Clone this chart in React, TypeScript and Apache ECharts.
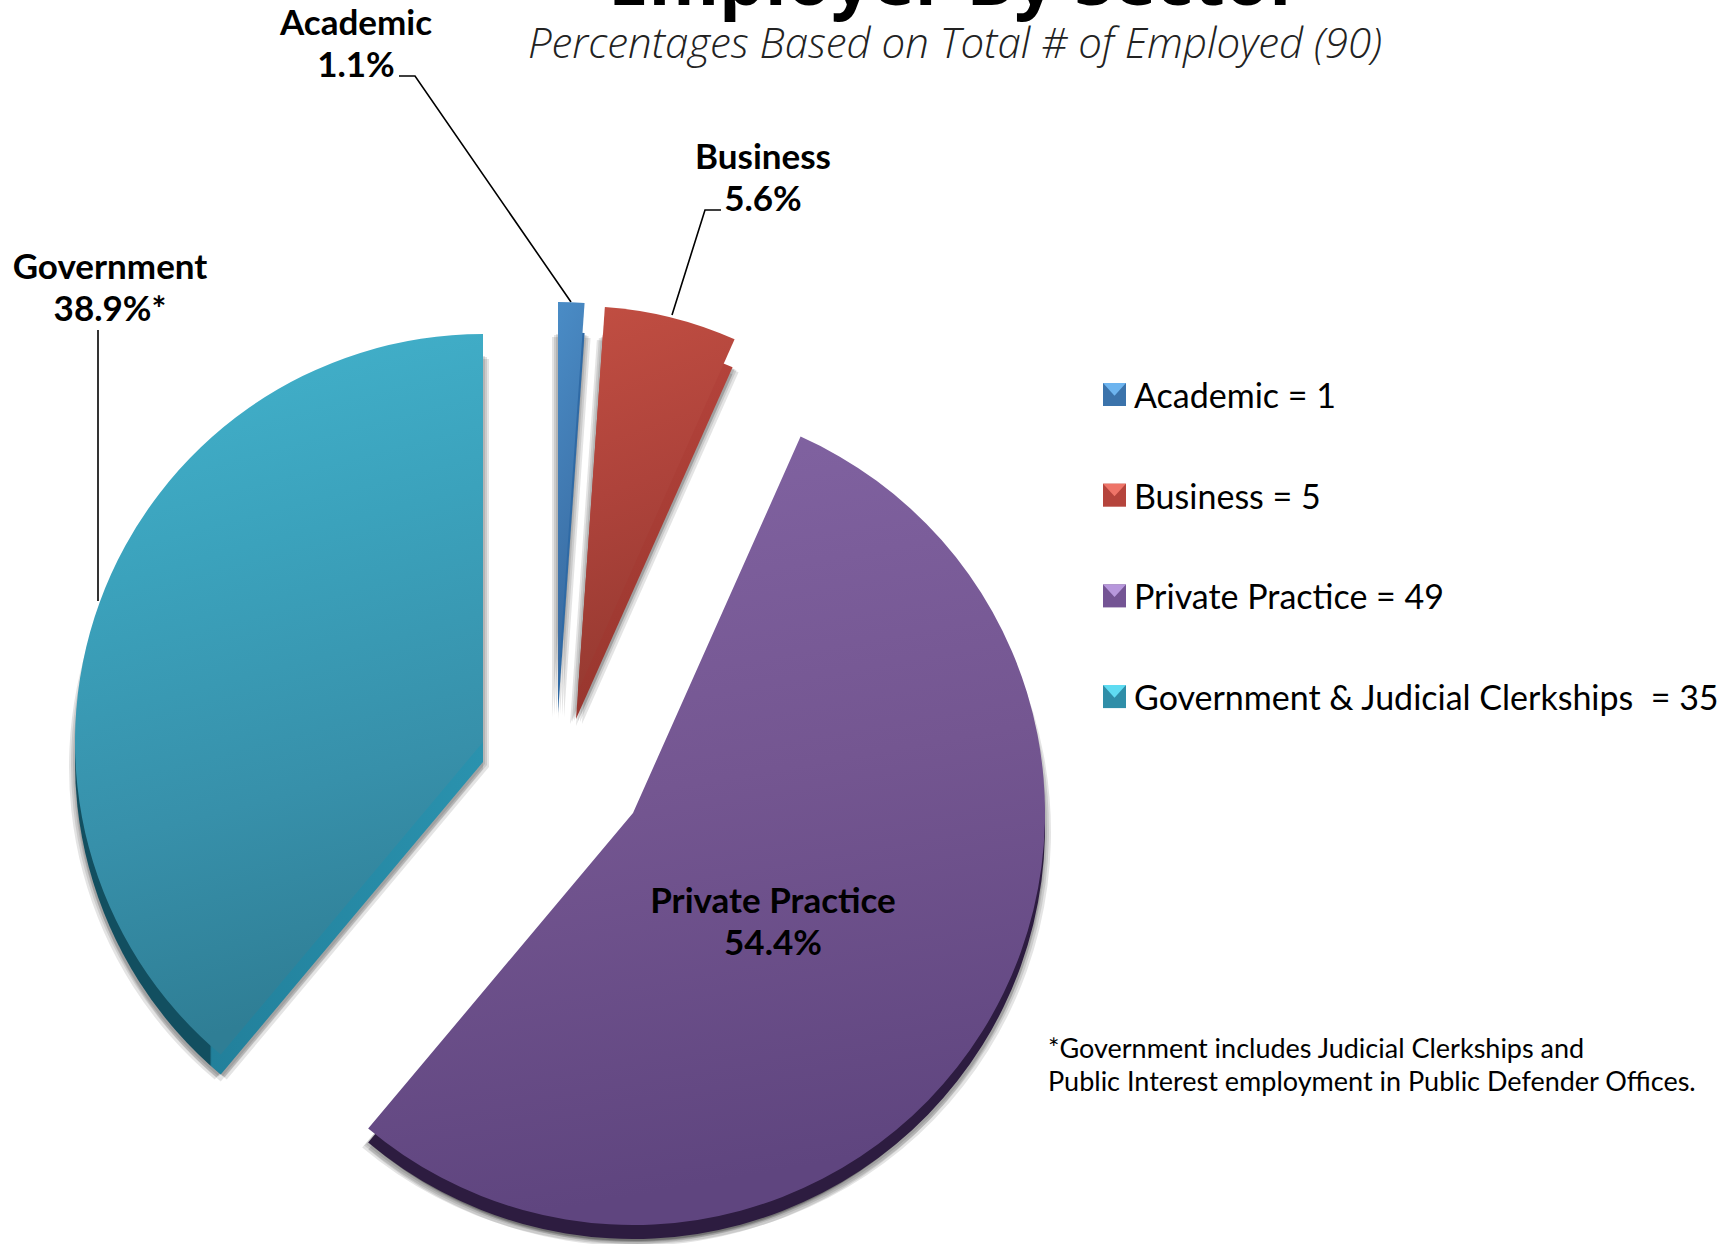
import React, { useEffect, useRef } from "react";
import * as echarts from "echarts";

const categories = ["Academic", "Business", "Private Practice", "Government & Judicial Clerkships"];
const shortLabels = ["Academic", "Business", "Private Practice", "Government"];
const labelSuffix = ["", "", "", "*"];
const values = [1, 5, 49, 35];
const total = values.reduce((a, b) => a + b, 0);

const titleText = "Employer By Sector";
const subtitleText = "Percentages Based on Total # of Employed (90)";
const footnote = "*Government includes Judicial Clerkships and\nPublic Interest employment in Public Defender Offices.";

const centers = [[558, 683], [578, 691], [633, 813], [483, 742]];
const radii = [381, 385, 412, 408];
const wallOffsets = [[0, 30], [-2, 28], [0, 14], [0, 20]];
const labelSpots = [[356, 42], [763, 176], [773, 920], [110, 286]];
const shadowOffsets = [[-6, 5], [6, 5], [-4, 3], [4, 3], [-2, 2], [2, 2], [0, 7]];

const vgrad = (stops: [number, string][]) => ({
  type: "linear", x: 0, y: 0, x2: 0.15, y2: 1,
  colorStops: stops.map(([offset, color]) => ({ offset, color })),
});
const faceFill = [
  vgrad([[0, "#4a8cc6"], [1, "#38699f"]]),
  vgrad([[0, "#c14e42"], [0.5, "#ae433b"], [1, "#973a31"]]),
  vgrad([[0, "#8264a3"], [0.5, "#745691"], [1, "#5f457f"]]),
  vgrad([[0, "#43b3cd"], [0.35, "#3ba2bc"], [0.7, "#3790aa"], [1, "#2f7e95"]]),
];
const wallFill = [
  "#2f6aa5",
  vgrad([[0, "#bb463e"], [1, "#97362e"]]),
  "#2d1c40",
  { type: "linear", x: 0, y: 0, x2: 1, y2: 0, colorStops: [
    { offset: 0, color: "#124f60" }, { offset: 0.33, color: "#124f60" },
    { offset: 0.335, color: "#22809b" }, { offset: 1, color: "#2a92ae" } ] },
];
const legendBase = ["#3b73ab", "#b5443c", "#745494", "#2f8ea8"];
const legendTop = ["#6db4ef", "#ee7468", "#b797dc", "#5fdcf2"];

const FONT = "Lato";
const LEG_X = 1103, LEG_Y = 383, LEG_S = 23, LEG_STEP = 100.7, LEG_LINE = 34;

function sliceAngles(i: number) {
  const before = values.slice(0, i).reduce((a, b) => a + b, 0);
  return [90 - (before / total) * 360, 90 - ((before + values[i]) / total) * 360];
}

export default function App() {
  const ref = useRef<HTMLDivElement>(null);
  useEffect(() => {
    const chart = echarts.init(ref.current!, null, { renderer: "svg" });
    const base = (i: number, s: number, e: number) => ({
      type: "pie", silent: true, radius: radii[i], startAngle: s, endAngle: e, clockwise: true,
      label: { show: false }, labelLine: { show: false },
    });
    const shadows = values.flatMap((v, i) => {
      const [s, e] = sliceAngles(i);
      return shadowOffsets.map((o, k) => ({
        ...base(i, s, e), name: `shadow${i}-${k}`, z: 1,
        center: [centers[i][0] + wallOffsets[i][0] + o[0], centers[i][1] + wallOffsets[i][1] + o[1]],
        itemStyle: { color: "#000", opacity: 0.105 },
        data: [{ name: `shadow-${categories[i]}-${k}`, value: v }],
      }));
    });
    const walls = values.map((v, i) => {
      const [s, e] = sliceAngles(i);
      return {
        ...base(i, s, e), name: "wall" + i, z: 2,
        center: [centers[i][0] + wallOffsets[i][0], centers[i][1] + wallOffsets[i][1]],
        itemStyle: { color: wallFill[i] },
        data: [{ name: "wall-" + categories[i], value: v }],
      };
    });
    const faces = values.map((v, i) => {
      const [s, e] = sliceAngles(i);
      return {
        ...base(i, s, e), name: categories[i], z: 3,
        center: centers[i],
        itemStyle: { color: faceFill[i] },
        label: {
          show: true, position: "inside", color: "#000", fontFamily: FONT, fontWeight: 700,
          fontSize: 35, lineHeight: 42, align: "center",
          formatter: () => `${shortLabels[i]}\n${((v / total) * 100).toFixed(1)}%${labelSuffix[i]}`,
        },
        labelLayout: { x: labelSpots[i][0], y: labelSpots[i][1], align: "center", verticalAlign: "middle", hideOverlap: false },
        data: [{ name: categories[i], value: v }],
      };
    });
    const leaders = [
      [[399, 76], [415, 76], [571, 302]],
      [[721, 210], [705, 210], [672, 315]],
      [[98, 330], [98, 601]],
    ];
    chart.setOption({
      animation: false,
      backgroundColor: "#fff",
      title: [
        { text: titleText, left: 955, textAlign: "center", top: -59, padding: 0,
          textStyle: { fontFamily: "Open Sans", fontWeight: 700, fontSize: 72, color: "#000" } },
        { text: subtitleText, left: 955, textAlign: "center", top: 20, padding: 0,
          textStyle: { fontFamily: "Open Sans", fontWeight: 300, fontStyle: "italic", fontSize: 42, color: "#222" } },
      ],
      legend: {
        orient: "vertical", left: LEG_X, top: LEG_Y - (LEG_LINE - LEG_S) / 2, padding: 0,
        itemWidth: LEG_S, itemHeight: LEG_S,
        itemGap: LEG_STEP - LEG_LINE, selectedMode: false, icon: "rect",
        textStyle: { fontFamily: FONT, fontSize: 34, lineHeight: LEG_LINE - 1, color: "#000", padding: [1, 0, 0, 3] },
        formatter: (name: string) => `${name}${name.startsWith("Gov") ? "  " : " "}= ${values[categories.indexOf(name)]}`,
        data: categories.map((name, i) => ({ name, itemStyle: { color: legendBase[i] } })),
      },
      graphic: [
        ...leaders.map((points) => ({ type: "polyline", z: 0, shape: { points }, style: { stroke: "#000", lineWidth: 1.6, fill: "none" } })),
        ...legendTop.map((fill, i) => {
          const y = LEG_Y + i * LEG_STEP;
          return { type: "polygon", z: 50, shape: { points: [[LEG_X, y], [LEG_X + LEG_S, y], [LEG_X + LEG_S / 2, y + LEG_S * 0.55]] }, style: { fill } };
        }),
        { type: "text", left: 1048, top: 1031, style: { text: footnote, fontFamily: FONT, fontSize: 27, lineHeight: 33, fill: "#000" } },
      ],
      series: [...shadows, ...walls, ...faces],
    });
    return () => chart.dispose();
  }, []);
  return <div ref={ref} style={{ position: "absolute", left: 0, top: 0, width: 1735, height: 1244 }} />;
}
